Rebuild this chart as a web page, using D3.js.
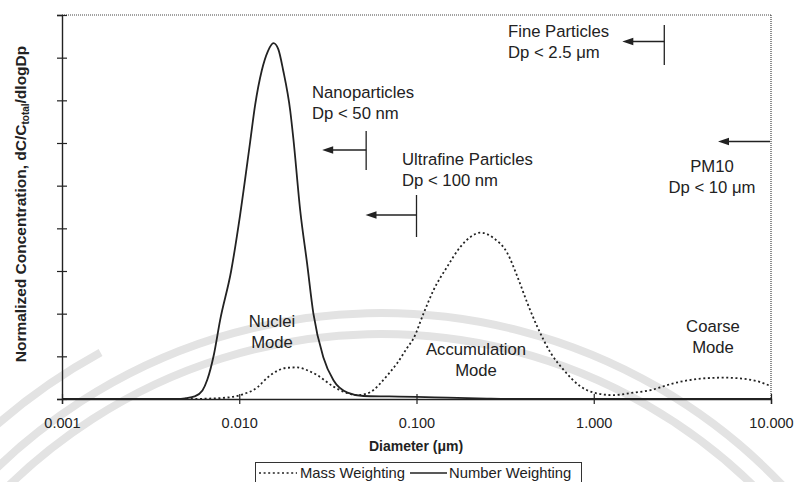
<!DOCTYPE html>
<html><head><meta charset="utf-8">
<script src="https://cdn.jsdelivr.net/npm/d3@7"></script>
<style>
html,body{margin:0;padding:0;background:#fff;}
svg{display:block;}
text{font-family:"Liberation Sans",Arial,Helvetica,sans-serif;fill:#222;}
</style></head>
<body>
<svg id="chart" width="795" height="482"></svg>
<script>
// ---- data ----
const xTicks = [0.001, 0.01, 0.1, 1, 10];
const xTickLabels = ["0.001", "0.010", "0.100", "1.000", "10.000"];
const yTicks = [0, 1, 2, 3, 4, 5, 6, 7, 8, 9];

// Number weighting (solid)
const numberDiam = [0.001, 0.003, 0.0045, 0.005, 0.0056, 0.0062, 0.0066, 0.0072, 0.0078, 0.009, 0.0101, 0.0115, 0.0123, 0.0134, 0.0145, 0.0156, 0.0166, 0.0177, 0.0194, 0.0202, 0.0221, 0.0241, 0.0262, 0.0298, 0.034, 0.0408, 0.0502, 0.07, 0.1, 0.15, 0.25, 0.4, 10];
const numberVal  = [0, 0, 0, 0.02, 0.06, 0.2, 0.45, 1.05, 1.85, 3.0, 4.3, 6.0, 6.9, 7.7, 8.15, 8.34, 8.2, 7.7, 6.75, 6.1, 4.4, 3.2, 2.0, 0.98, 0.44, 0.15, 0.07, 0.06, 0.05, 0.03, 0.01, 0, 0];

// Mass weighting (dotted)
const massDiam = [0.001, 0.004, 0.0055, 0.0068, 0.0078, 0.0101, 0.0127, 0.0144, 0.0164, 0.0185, 0.0212, 0.024, 0.0275, 0.034, 0.0406, 0.0462, 0.052, 0.0572, 0.0626, 0.07, 0.0778, 0.0886, 0.0962, 0.1095, 0.1247, 0.149, 0.1772, 0.2018, 0.2299, 0.2723, 0.3254, 0.3707, 0.4219, 0.4807, 0.5715, 0.6768, 0.8445, 1.0, 1.297, 1.618, 2.099, 2.831, 4.39, 5.42, 7.71, 10];
const massVal  = [0, 0, 0, 0.01, 0.02, 0.09, 0.28, 0.5, 0.66, 0.73, 0.74, 0.68, 0.56, 0.29, 0.14, 0.09, 0.12, 0.21, 0.37, 0.6, 0.84, 1.2, 1.42, 2.0, 2.55, 3.1, 3.57, 3.8, 3.9, 3.77, 3.42, 2.87, 2.25, 1.69, 1.08, 0.68, 0.29, 0.15, 0.09, 0.14, 0.21, 0.37, 0.49, 0.5, 0.45, 0.3];

// size cut-offs (diameter, µm)
const cutoffNames = ["Nano", "Ultrafine", "Fine", "PM10"];
const cutoffDiam = [0.052, 0.1, 2.5, 10];

// ---- chart ----
const svg = d3.select("#chart");
const L = 62, R = 771, T = 15, B = 399;
const x = d3.scaleLog().domain([0.001, 10]).range([L, R]);
const y = d3.scaleLinear().domain([0, 9]).range([B, T]);

// faint watermark arcs (background)
const wm = svg.append("g").attr("fill", "none").attr("stroke", "#e3e3e3");
const cx = 381, cy = 866;
[553, 532].forEach(r => {
  wm.append("path")
    .attr("d", d3.arc()({innerRadius: r, outerRadius: r, startAngle: -1.05, endAngle: 1.0}))
    .attr("transform", `translate(${cx},${cy})`)
    .attr("stroke-width", 8);
});
wm.append("path")
  .attr("d", d3.arc()({innerRadius: 585, outerRadius: 585, startAngle: -1.0, endAngle: -0.5}))
  .attr("transform", `translate(${cx},${cy})`)
  .attr("stroke-width", 8);

// plot frame: top and right dotted
svg.append("line").attr("x1", L).attr("x2", R).attr("y1", T).attr("y2", T)
  .attr("stroke", "#444").attr("stroke-width", 1.2).attr("stroke-dasharray", "1,1");
svg.append("line").attr("x1", R).attr("x2", R).attr("y1", T).attr("y2", B)
  .attr("stroke", "#444").attr("stroke-width", 1.2).attr("stroke-dasharray", "1,1");

// curves
const lineGen = d3.line().x(d => x(d[0])).y(d => y(d[1])).curve(d3.curveMonotoneX);
svg.append("path")
  .datum(massDiam.map((d, i) => [d, massVal[i]]))
  .attr("d", lineGen).attr("fill", "none")
  .attr("stroke", "#222").attr("stroke-width", 1.8).attr("stroke-dasharray", "2,2.6");
svg.append("path")
  .datum(numberDiam.map((d, i) => [d, numberVal[i]]))
  .attr("d", lineGen).attr("fill", "none")
  .attr("stroke", "#222").attr("stroke-width", 1.8);

// axes
const xAxis = svg.append("g").attr("transform", `translate(0,${B})`)
  .call(d3.axisBottom(x).tickValues(xTicks).tickFormat((d, i) => xTickLabels[i]).tickSize(5).tickPadding(14));
xAxis.selectAll(".tick line").attr("y1", -5).attr("stroke", "#222").attr("stroke-width", 1.2);
xAxis.select(".domain").attr("stroke", "#222").attr("stroke-width", 1.4);
xAxis.selectAll(".tick text").attr("font-size", 14.5).attr("fill", "#2a2a2a")
  .attr("font-family", '"Liberation Sans",Arial,sans-serif');

const yAxis = svg.append("g").attr("transform", `translate(${L},0)`)
  .call(d3.axisLeft(y).tickValues(yTicks).tickFormat("").tickSize(5));
yAxis.selectAll(".tick line").attr("x1", 5).attr("stroke", "#222").attr("stroke-width", 1.2);
yAxis.select(".domain").attr("stroke", "#222").attr("stroke-width", 1.4);

// axis titles
svg.append("text").attr("x", 416).attr("y", 451).attr("text-anchor", "middle")
  .attr("font-size", 14).attr("font-weight", "bold").text("Diameter (μm)");

const yt = svg.append("text").attr("transform", "translate(26,204) rotate(-90)")
  .attr("text-anchor", "middle").attr("font-size", 15.5).attr("font-weight", "bold");
yt.append("tspan").text("Normalized Concentration, dC/C");
yt.append("tspan").attr("font-size", 10).attr("dy", 3).text("total");
yt.append("tspan").attr("dy", -3).text("/dlogDp");

// cut-off markers
const ann = svg.append("g").attr("stroke", "#222").attr("stroke-width", 1.3).attr("fill", "#222");
function arrow(xStart, len, yy) {
  const tip = xStart - len;
  ann.append("line").attr("x1", xStart).attr("x2", tip + 8).attr("y1", yy).attr("y2", yy);
  ann.append("path").attr("stroke", "none")
    .attr("d", `M${tip},${yy} L${tip + 11},${yy - 3.8} L${tip + 11},${yy + 3.8} Z`);
}
function vline(xx, y1, y2) {
  ann.append("line").attr("x1", xx).attr("x2", xx).attr("y1", y1).attr("y2", y2);
}
// Nanoparticles
vline(x(cutoffDiam[0]), 131, 170); arrow(x(cutoffDiam[0]), 44, 150);
// Ultrafine
vline(x(cutoffDiam[1]), 195, 237); arrow(x(cutoffDiam[1]), 51, 215);
// Fine
vline(x(cutoffDiam[2]), 25, 65); arrow(x(cutoffDiam[2]), 42, 41.5);
// PM10
arrow(x(cutoffDiam[3]) - 1, 52, 141.5);

// labels
function label(lines, xx, yy, anchor) {
  const t = svg.append("text").attr("font-size", 16.7).attr("text-anchor", anchor || "start");
  lines.forEach((s, i) => t.append("tspan").attr("x", xx).attr("y", yy + i * 21).text(s));
}
label(["Fine Particles", "Dp < 2.5 μm"], 508, 37);
label(["Nanoparticles", "Dp < 50 nm"], 312, 97.5);
label(["Ultrafine Particles", "Dp < 100 nm"], 402, 164.5);
label(["PM10", "Dp < 10 μm"], 712, 171.5, "middle");
label(["Nuclei", "Mode"], 272, 326.5, "middle");
label(["Accumulation", "Mode"], 476, 355, "middle");
label(["Coarse", "Mode"], 713, 331.5, "middle");

// legend
const lg = svg.append("g");
lg.append("rect").attr("x", 255.5).attr("y", 462.5).attr("width", 326).attr("height", 30)
  .attr("fill", "#fff").attr("stroke", "#333").attr("stroke-width", 1);
lg.append("line").attr("x1", 259).attr("x2", 297).attr("y1", 473).attr("y2", 473)
  .attr("stroke", "#222").attr("stroke-width", 1.6).attr("stroke-dasharray", "2,2.6");
lg.append("text").attr("x", 300).attr("y", 478).attr("font-size", 14.8).text("Mass Weighting");
lg.append("line").attr("x1", 410).attr("x2", 447).attr("y1", 473).attr("y2", 473)
  .attr("stroke", "#222").attr("stroke-width", 1.6);
lg.append("text").attr("x", 449).attr("y", 478).attr("font-size", 14.8).text("Number Weighting");
</script>
</body></html>
